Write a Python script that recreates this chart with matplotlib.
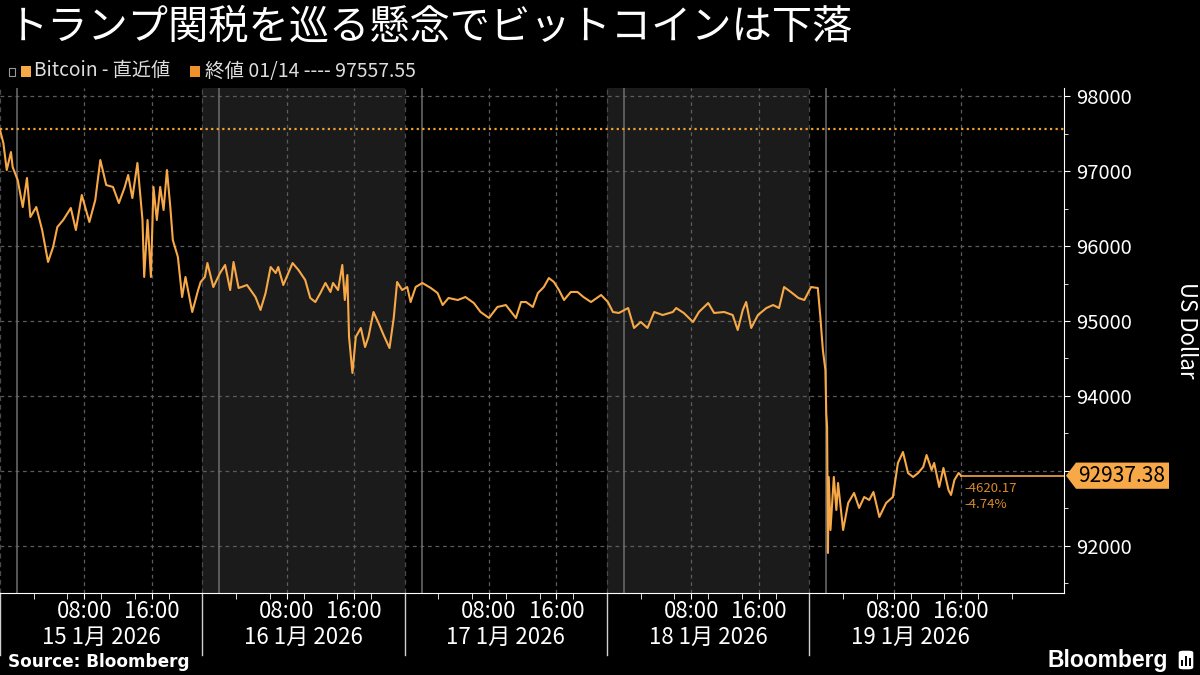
import matplotlib
matplotlib.use("Agg")
import matplotlib.pyplot as plt
import matplotlib.transforms as mtransforms
from matplotlib.patches import Polygon, Rectangle, FancyBboxPatch

plt.rcParams['font.family'] = ['Noto Sans CJK JP', 'DejaVu Sans']

# hours since 2026-01-14 22:00 (start of the chart)
hours = [0.0, 0.4, 0.8, 1.3, 1.5, 2.1, 2.7, 3.2, 3.6, 4.3, 5.0, 5.7, 6.3, 6.8, 7.5,
         8.4, 9.0, 9.7, 10.6, 11.3, 11.9, 12.6, 13.4, 14.1, 14.8, 15.2, 15.7, 16.3,
         16.9, 17.1, 17.5, 17.9, 18.2, 18.6, 19.0, 19.4, 19.8, 20.2, 20.5, 21.1,
         21.6, 22.0, 22.8, 23.5,
         23.8, 24.3, 24.6, 25.3, 26.1, 26.7, 27.3, 27.7, 28.3, 29.3, 30.3, 30.9,
         31.5, 32.1, 32.7, 33.0, 33.6, 34.7, 35.4, 36.2, 36.8, 37.4, 38.0, 38.6,
         39.2, 39.5, 40.1, 40.6, 40.9, 41.2, 41.4, 41.8, 42.2, 42.8, 43.3, 43.7,
         44.3, 44.9, 45.5, 46.2, 46.7, 47.1, 47.7,
         48.3, 48.7, 49.3, 50.1, 51.1, 51.9, 52.5, 53.2, 54.3, 55.2, 56.2, 57.0,
         58.0, 59.0, 60.0, 61.2, 61.8, 62.4, 63.2, 63.8, 64.5, 65.1, 65.7, 66.3,
         66.9, 67.7, 68.5, 69.2, 70.1,
         71.3, 72.1, 72.7, 73.4, 74.5, 75.2, 76.0, 76.8, 77.6, 78.6, 79.8, 80.2,
         81.1, 82.2, 82.9, 84.0, 84.7, 85.9, 86.9, 87.5, 88.1, 88.5, 89.1, 89.9,
         90.9, 91.7, 92.4, 93.0, 93.8, 94.7, 95.4, 96.2, 97.0, 97.3, 97.6, 97.9,
         98.0, 98.1, 98.2, 98.3, 98.5, 98.9, 99.2, 99.4, 100.0, 100.6, 101.3,
         101.9, 102.5, 103.1, 103.6, 104.3, 105.1, 105.9, 106.5, 107.1, 107.7,
         108.3, 108.9, 109.5, 109.9, 110.5, 110.8, 111.4, 111.9, 112.5, 112.8,
         113.2, 113.7, 114.0]

prices = [97547, 97373, 97013, 97253, 97053, 96880, 96520, 96907, 96387, 96520,
          96213, 95787, 95987, 96253, 96347, 96507, 96213, 96680, 96320, 96613,
          97147, 96813, 96787, 96573, 96787, 96947, 96640, 97107, 96347, 95587,
          96347, 95587, 96787, 96347, 96787, 96480, 97013, 96520, 96080, 95853,
          95320, 95587, 95120, 95413,
          95520, 95587, 95773, 95453, 95640, 95747, 95413, 95787, 95440, 95480,
          95320, 95147, 95373, 95720, 95640, 95720, 95480, 95773, 95680, 95547,
          95307, 95253, 95373, 95507, 95387, 95507, 95413, 95747, 95280, 95613,
          94787, 94307, 94787, 94907, 94653, 94787, 95120, 94973, 94813, 94640,
          95040, 95520, 95413,
          95453, 95253, 95453, 95507, 95440, 95373, 95213, 95307, 95280, 95320,
          95240, 95120, 95040, 95187, 95213, 95040, 95253, 95253, 95187, 95373,
          95453, 95573, 95520, 95413, 95280, 95387, 95387, 95320, 95253,
          95347, 95253, 95120, 95107, 95173, 94907, 94987, 94907, 95120, 95080,
          95120, 95173, 95107, 94987, 95120, 95240, 95107, 95120, 95080, 94880,
          95147, 95253, 94907, 95080, 95173, 95213, 95173, 95453, 95387, 95307,
          95280, 95453, 95440, 95053, 94613, 94347, 93773, 93587, 91907, 92920,
          92213, 92920, 92480, 92840, 92213, 92573, 92707, 92507, 92653, 92613,
          92720, 92387, 92573, 92653, 93107, 93253, 92973, 92920, 92973, 93053,
          93213, 93013, 93107, 92787, 93040, 92747, 92680, 92880, 92973, 92937.38]

prev_close = 97557.55
last_price = 92937.38
change_abs = "-4620.17"
change_pct = "-4.74%"

day_labels = ["15 1月 2026", "16 1月 2026", "17 1月 2026", "18 1月 2026", "19 1月 2026"]
day_starts = [0, 24, 48, 72, 96]        # label / shading boundaries
midnights = [2, 26, 50, 74, 98]         # 00:00 lines
shaded_days = [1, 3]

LINE = '#f7a847'
GRID = '#5c5c5c'

fig = plt.figure(figsize=(12, 6.75), dpi=100, facecolor='black')
ax = fig.add_axes([0, 1 - 593 / 675, 1064 / 1200, 505 / 675])
ax.set_facecolor('black')
ax.set_xlim(0, 126.2)
ax.set_ylim(91373, 98107)

# weekend shading
for d in shaded_days:
    ax.axvspan(day_starts[d], day_starts[d] + 24, color='#1b1b1b', lw=0, zorder=0)

# grid
for v in range(92000, 98001, 1000):
    ax.axhline(v, color=GRID, lw=0.9, ls=(0, (3, 3)), zorder=1)
for m in midnights:
    ax.axvline(m, color='#6e6e6e', lw=1.1, zorder=1)
    for h in (8, 16):
        ax.axvline(m + h, color=GRID, lw=0.9, ls=(0, (3, 3)), zorder=1)
for s in day_starts:
    ax.axvline(s, color='#4a4a4a', lw=0.9, ls=(0, (4, 3)), zorder=1)

ax.axhline(prev_close, color='#f0a030', lw=1.6, ls=(0, (1, 1.5)), zorder=2)
ax.plot(hours, prices, color=LINE, lw=1.5, zorder=3)
ax.plot([hours[-1], 126.2], [last_price, last_price], color=LINE, lw=1.2, zorder=3)

ax.annotate(change_abs, (hours[-1], last_price), xytext=(2, -9), textcoords='offset points',
            color='#d98a2a', fontsize=9.5, va='center', ha='left')
ax.annotate(change_pct, (hours[-1], last_price), xytext=(2, -21), textcoords='offset points',
            color='#d98a2a', fontsize=9.5, va='center', ha='left')

# spines / ticks
for side in ('top', 'left'):
    ax.spines[side].set_visible(False)
ax.spines['right'].set_color('white')
ax.spines['bottom'].set_color('white')
ax.yaxis.tick_right()
ax.set_yticks(range(92000, 98001, 1000))
ax.set_yticks(range(91500, 98001, 500), minor=True)
ax.tick_params(axis='y', which='both', colors='white', labelsize=14.5, length=4, pad=5)
ax.tick_params(axis='y', which='minor', length=3)
ax.set_yticklabels(["" if v == 93000 else str(v) for v in range(92000, 98001, 1000)])

xt = [m + h for m in midnights for h in (8, 16)]
ax.set_xticks(xt)
ax.set_xticklabels(["08:00", "16:00"] * len(midnights))
ax.set_xticks([m + h for m in midnights for h in range(-2, 24, 4) if m + h < 126], minor=True)
ax.tick_params(axis='x', which='both', colors='white', labelsize=16, length=4, pad=1)

fig.text(1186 / 1200, 1 - 330 / 675, "US Dollar", color='white', fontsize=16,
         rotation=270, ha='center', va='center')

trans = mtransforms.blended_transform_factory(ax.transData, ax.transAxes)
for s, lab in zip(day_starts, day_labels):
    ax.text(s + 12, -0.088, lab, transform=trans, color='white', fontsize=16,
            ha='center', va='center')
    ax.plot([s, s], [0, -0.123], transform=trans, color='#cfcfcf', lw=1, clip_on=False)

# last price tag
tag = mtransforms.blended_transform_factory(ax.transAxes, ax.transData)
px = 1 / 1064
hh = 175
ax.add_patch(Polygon([(1 + 2 * px, last_price), (1 + 12 * px, last_price + hh),
                      (1 + 105 * px, last_price + hh), (1 + 105 * px, last_price - hh),
                      (1 + 12 * px, last_price - hh)], closed=True, transform=tag,
                     facecolor=LINE, edgecolor='none', clip_on=False, zorder=5))
ax.text(1 + 58 * px, last_price, f"{last_price:.2f}", transform=tag, color='black',
        fontsize=15, ha='center', va='center', zorder=6)

# header
fig.text(8 / 1200, 1 - 27 / 675, "トランプ関税を巡る懸念でビットコインは下落", color='white',
         fontsize=29, va='center', ha='left')
fig.patches.append(Rectangle((9 / 1200, 1 - 76 / 675), 6 / 1200, 8 / 675, transform=fig.transFigure,
                             facecolor='none', edgecolor='#9a9a9a', lw=0.8, figure=fig))
fig.patches.append(Rectangle((21 / 1200, 1 - 77 / 675), 10 / 1200, 11 / 675,
                             transform=fig.transFigure, facecolor='#f7a847', figure=fig))
fig.text(34 / 1200, 1 - 71 / 675, "Bitcoin - 直近値", color='#dddddd', fontsize=13.8, va='center')
fig.patches.append(Rectangle((190 / 1200, 1 - 77 / 675), 10 / 1200, 11 / 675,
                             transform=fig.transFigure, facecolor='#f0922b', figure=fig))
fig.text(205 / 1200, 1 - 71 / 675, "終値 01/14 ---- 97557.55", color='#dddddd', fontsize=14,
         va='center')

# footer
fig.text(8 / 1200, 1 - 662 / 675, "Source: Bloomberg", color='white', fontsize=12.2,
         fontweight='bold', va='center', family=['DejaVu Sans'])
fig.text(1168 / 1200, 1 - 660 / 675, "Bloomberg", color='white', fontsize=16.5,
         fontweight='bold', va='center', ha='right', family=['Liberation Sans'])
fig.patches.append(FancyBboxPatch((1178 / 1200, 1 - 670 / 675), 16 / 1200, 20 / 675,
                                  boxstyle="round,pad=0,rounding_size=0.004",
                                  transform=fig.transFigure, facecolor='white', figure=fig))
for i, hgt in enumerate([6, 10, 8]):
    fig.patches.append(Rectangle(((1181 + i * 4) / 1200, 1 - 666 / 675), 2 / 1200, hgt / 675,
                                 transform=fig.transFigure, facecolor='black', figure=fig))

fig.savefig("out.png", dpi=100, facecolor='black')
